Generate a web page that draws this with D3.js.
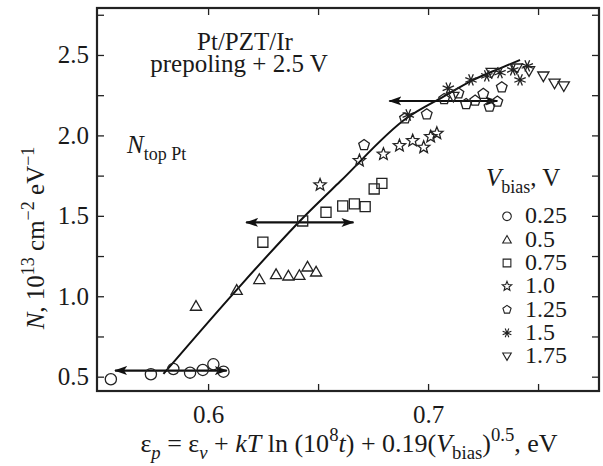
<!DOCTYPE html>
<html><head><meta charset="utf-8">
<script src="https://cdn.jsdelivr.net/npm/d3@7"></script>
<style>
body{margin:0;background:#fff}
text{font-family:"Liberation Serif","Times New Roman",serif;fill:#1a1a1a}
</style></head><body>
<svg id="chart" width="603" height="466"></svg>
<script>
// data
var seriesNames = ["0.25", "0.5", "0.75", "1.0", "1.25", "1.5", "1.75"];
var shapes = ["circle", "triangle", "square", "star", "pentagon", "asterisk", "triangleDown"];
var v025 = [[0.5558,0.484],[0.5740,0.515],[0.5842,0.548],[0.5918,0.525],[0.5976,0.542],[0.6024,0.577],[0.6070,0.531]];
var v05 = [[0.5945,0.94],[0.613,1.039],[0.6233,1.106],[0.6309,1.137],[0.6365,1.128],[0.6415,1.132],[0.6452,1.184],[0.6491,1.153]];
var v075 = [[0.6249,1.336],[0.643,1.468],[0.6536,1.522],[0.6612,1.561],[0.6665,1.574],[0.6714,1.557],[0.6755,1.667],[0.679,1.702]];
var v10 = [[0.6509,1.692],[0.6688,1.843],[0.6797,1.883],[0.687,1.936],[0.693,1.967],[0.698,1.926],[0.7012,1.992],[0.704,2.013]];
var v125 = [[0.6709,1.94],[0.6895,2.106],[0.6994,2.131],[0.7073,2.226],[0.7138,2.262],[0.7173,2.195],[0.7214,2.216],[0.7251,2.258],[0.7279,2.179],[0.7315,2.21],[0.7335,2.299]];
var v15 = [[0.691,2.127],[0.7092,2.293],[0.7195,2.345],[0.7267,2.37],[0.7327,2.39],[0.7385,2.407],[0.7418,2.345],[0.7451,2.432]];
var v175 = [[0.7115,2.241],[0.7289,2.39],[0.7403,2.417],[0.7459,2.4],[0.7524,2.367],[0.7575,2.323],[0.7617,2.306]];
var allSeries = [v025, v05, v075, v10, v125, v15, v175];
var fitCurve = [[0.5797,0.517],[0.613,1.04],[0.6433,1.49],[0.66,1.713],[0.6903,2.108],[0.707,2.241],[0.7206,2.345],[0.7327,2.417],[0.7418,2.469]];
// [from, to, level]
var arrows = [[0.5577,0.6085,0.538],[0.6173,0.6661,1.459],[0.6824,0.7315,2.214]];
var xTicks = [0.6, 0.65, 0.7, 0.75];
var xLabels = [0.6, 0.7];
var yTicks = [0.5, 0.75, 1.0, 1.25, 1.5, 1.75, 2.0, 2.25, 2.5, 2.75];
var yLabels = [0.5, 1.0, 1.5, 2.0, 2.5];

var svg = d3.select("#chart");
var L = 97, R = 599, T = 8, B = 391;
var x = d3.scaleLinear().domain([0.5495, 0.7777]).range([L, R]);
var y = d3.scaleLinear().domain([0.411, 2.792]).range([B, T]);
var fs = 25;
var serif = '"Liberation Serif","Times New Roman",serif';

function shapePath(type, r) {
	var p = d3.path(), i, a;
	if (type == "circle") { p.arc(0, 0, r, 0, 2*Math.PI); return p.toString(); }
	if (type == "square") { p.rect(-r*0.9, -r*0.9, r*1.8, r*1.8); return p.toString(); }
	if (type == "triangle" || type == "triangleDown") {
		var s = type == "triangle" ? 1 : -1;
		for (i = 0; i < 3; i++) {
			a = -Math.PI/2 + i*2*Math.PI/3;
			var px = r*1.15*Math.cos(a), py = s*(r*1.15*Math.sin(a) + r*0.2);
			if (i == 0) p.moveTo(px, py); else p.lineTo(px, py);
		}
		p.closePath(); return p.toString();
	}
	if (type == "pentagon") {
		for (i = 0; i < 5; i++) {
			a = -Math.PI/2 + i*2*Math.PI/5;
			if (i == 0) p.moveTo(r*Math.cos(a), r*Math.sin(a)); else p.lineTo(r*Math.cos(a), r*Math.sin(a));
		}
		p.closePath(); return p.toString();
	}
	if (type == "star") {
		for (i = 0; i < 10; i++) {
			a = -Math.PI/2 + i*Math.PI/5;
			var rr = i % 2 == 0 ? r*1.15 : r*0.5;
			if (i == 0) p.moveTo(rr*Math.cos(a), rr*Math.sin(a)); else p.lineTo(rr*Math.cos(a), rr*Math.sin(a));
		}
		p.closePath(); return p.toString();
	}
	if (type == "asterisk") {
		for (i = 0; i < 4; i++) {
			a = i*Math.PI/4 + Math.PI/8;
			p.moveTo(-r*1.1*Math.cos(a), -r*1.1*Math.sin(a));
			p.lineTo(r*1.1*Math.cos(a), r*1.1*Math.sin(a));
		}
		return p.toString();
	}
}

function richText(sel, parts, size) {
	var cur = 0;
	parts.forEach(function(pt) {
		var kind = pt[1] || "";
		var small = kind.indexOf("sub") >= 0 || kind.indexOf("sup") >= 0;
		var target = kind.indexOf("sub") >= 0 ? size*0.28 : kind.indexOf("sup") >= 0 ? -size*0.42 : 0;
		var ts = sel.append("tspan").attr("dy", target - cur).text(pt[0]);
		cur = target;
		if (small) ts.style("font-size", (size*0.72) + "px");
		if (kind.slice(-1) == "I") ts.style("font-style", "italic");
	});
}

// axes, ticks pointing inward on all sides
svg.append("g").attr("transform", "translate(0," + B + ")")
	.call(d3.axisBottom(x).tickValues(xTicks).tickSize(-7).tickSizeOuter(0).tickPadding(14)
		.tickFormat(function(d) { return xLabels.indexOf(d) >= 0 ? d3.format(".1f")(d) : ""; }));
svg.append("g").attr("transform", "translate(0," + T + ")")
	.call(d3.axisTop(x).tickValues(xTicks).tickSize(-7).tickSizeOuter(0).tickFormat(""));
svg.append("g").attr("transform", "translate(" + L + ",0)")
	.call(d3.axisLeft(y).tickValues(yTicks).tickSize(-7).tickSizeOuter(0).tickPadding(8)
		.tickFormat(function(d) { return yLabels.indexOf(d) >= 0 ? d3.format(".1f")(d) : ""; }));
svg.append("g").attr("transform", "translate(" + R + ",0)")
	.call(d3.axisRight(y).tickValues(yTicks).tickSize(-7).tickSizeOuter(0).tickFormat(""));
svg.selectAll(".domain").remove();
svg.selectAll("g").attr("font-family", serif);
svg.selectAll(".tick line").attr("stroke", "#222").attr("stroke-width", 1.3);
svg.selectAll(".tick text").style("font-family", serif).style("font-size", fs + "px").attr("fill", "#1a1a1a");
svg.append("rect").attr("x", L).attr("y", T).attr("width", R - L).attr("height", B - T)
	.attr("fill", "none").attr("stroke", "#222").attr("stroke-width", 2.2);

// fit curve
var line = d3.line().x(function(d) { return x(d[0]); }).y(function(d) { return y(d[1]); }).curve(d3.curveMonotoneX);
svg.append("path").datum(fitCurve).attr("d", line).attr("fill", "none").attr("stroke", "#111").attr("stroke-width", 2);

// double arrows
var defs = svg.append("defs");
defs.append("marker").attr("id", "head").attr("viewBox", "0 -5 13 10").attr("refX", 12).attr("refY", 0)
	.attr("markerWidth", 13).attr("markerHeight", 10).attr("markerUnits", "userSpaceOnUse").attr("orient", "auto-start-reverse")
	.append("path").attr("d", "M0,-4.5L13,0L0,4.5L3,0Z").attr("fill", "#111");
svg.selectAll(".arrow").data(arrows).enter().append("line").attr("class", "arrow")
	.attr("x1", function(d) { return x(d[0]); }).attr("x2", function(d) { return x(d[1]); })
	.attr("y1", function(d) { return y(d[2]); }).attr("y2", function(d) { return y(d[2]); })
	.attr("stroke", "#111").attr("stroke-width", 2.2)
	.attr("marker-start", "url(#head)").attr("marker-end", "url(#head)");

// data markers
allSeries.forEach(function(data, k) {
	svg.append("g").selectAll("path").data(data).enter().append("path")
		.attr("transform", function(d) { return "translate(" + x(d[0]) + "," + y(d[1]) + ")"; })
		.attr("d", shapePath(shapes[k], 5.6))
		.attr("fill", "none").attr("stroke", "#222").attr("stroke-width", 1.3);
});

// annotations
svg.append("text").attr("x", 245).attr("y", 50).attr("text-anchor", "middle").style("font-size", fs + "px").text("Pt/PZT/Ir");
svg.append("text").attr("x", 239).attr("y", 72).attr("text-anchor", "middle").style("font-size", fs + "px").text("prepoling + 2.5 V");
richText(svg.append("text").attr("x", 127).attr("y", 153).style("font-size", fs + "px"),
	[["N", "I"], ["top Pt", "sub"]], fs);

// legend
richText(svg.append("text").attr("x", 486).attr("y", 186).style("font-size", fs + "px"),
	[["V", "I"], ["bias", "sub"], [", V", ""]], fs);
var leg = svg.append("g").selectAll("g").data(seriesNames).enter().append("g")
	.attr("transform", function(d, i) { return "translate(507," + (223.3 + i*23.33) + ")"; });
leg.append("path").attr("transform", "translate(0,-7)")
	.attr("d", function(d, i) { return shapePath(shapes[i], 4.3); })
	.attr("fill", "none").attr("stroke", "#222").attr("stroke-width", 1.1);
leg.append("text").attr("x", 18).attr("y", 0).style("font-size", "24px").text(function(d) { return d; });

// axis titles
richText(svg.append("text").attr("x", 349).attr("y", 452).attr("text-anchor", "middle").style("font-size", "26px"),
	[["\u03b5", ""], ["p", "subI"], [" = \u03b5", ""], ["v", "subI"], [" + ", ""], ["kT", "I"], [" ln (10", ""], ["8", "sup"],
	 ["t", "I"], [") + 0.19(", ""], ["V", "I"], ["bias", "sub"], [")", ""], ["0.5", "sup"], [", eV", ""]], 26);
richText(svg.append("text").attr("transform", "translate(44,238) rotate(-90)").attr("text-anchor", "middle").style("font-size", fs + "px"),
	[["N", "I"], [", 10", ""], ["13", "sup"], [" cm", ""], ["\u22122", "sup"], [" eV", ""], ["\u22121", "sup"]], fs);
</script>
</body></html>
